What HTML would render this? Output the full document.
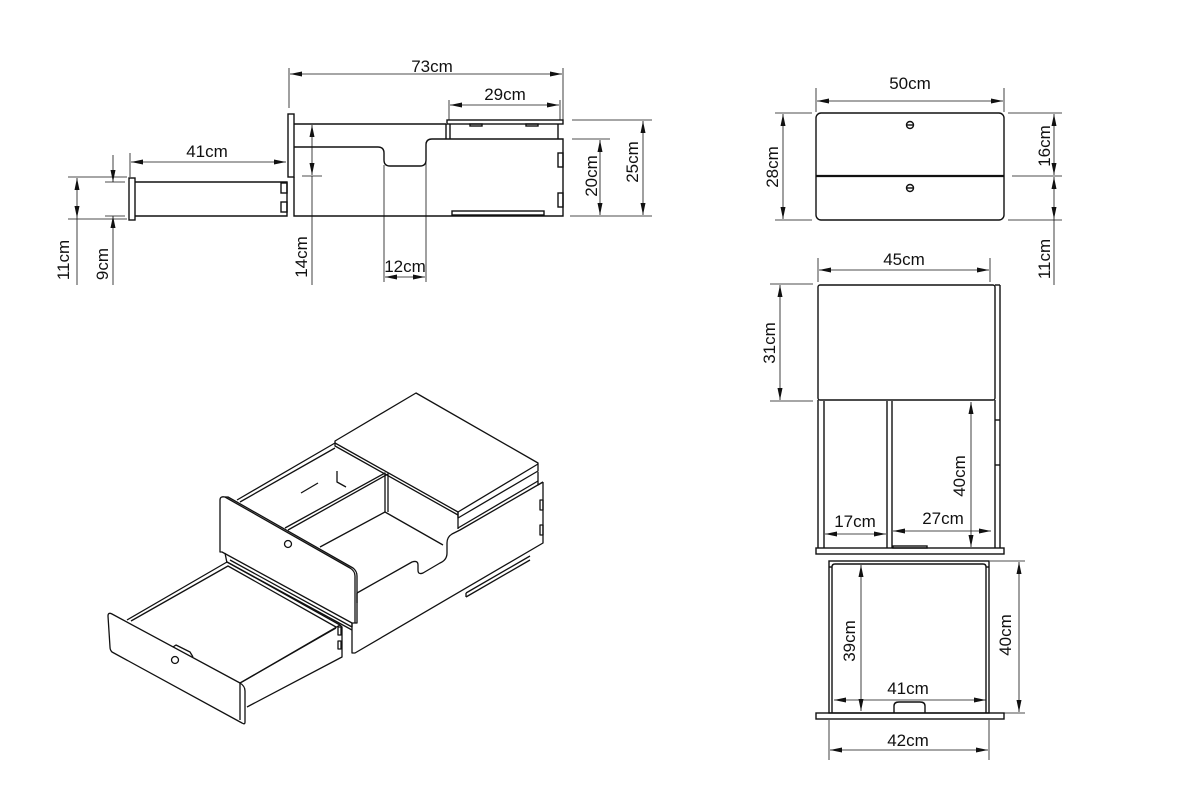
<!DOCTYPE html>
<html><head><meta charset="utf-8"><style>
html,body{margin:0;padding:0;background:#fff;}
svg{display:block;}
text{font-family:"Liberation Sans",sans-serif;font-size:17px;fill:#111;}
</style></head><body>
<svg width="1200" height="800" viewBox="0 0 1200 800" xmlns="http://www.w3.org/2000/svg">
<defs>
<marker id="a" viewBox="0 0 12 6" refX="12" refY="3" markerWidth="12" markerHeight="6" orient="auto-start-reverse" markerUnits="userSpaceOnUse"><path d="M0,0.5 L12,3 L0,5.5 z" fill="#111"/></marker>
</defs>
<g fill="none" stroke="#111" stroke-width="1">
<!-- ===== SIDE VIEW ===== -->
<g stroke-width="0.8">
<line x1="289" y1="68" x2="289" y2="108"/><line x1="563" y1="68" x2="563" y2="120"/>
<line x1="290" y1="74" x2="562" y2="74" marker-start="url(#a)" marker-end="url(#a)"/>
<line x1="449" y1="100" x2="449" y2="120"/><line x1="560" y1="100" x2="560" y2="120"/>
<line x1="450" y1="105" x2="559" y2="105" marker-start="url(#a)" marker-end="url(#a)"/>
<line x1="312" y1="125" x2="312" y2="175" marker-start="url(#a)" marker-end="url(#a)"/>
<line x1="312" y1="176" x2="312" y2="285"/><line x1="302" y1="176" x2="322" y2="176"/>
<line x1="384" y1="165" x2="384" y2="282"/><line x1="426" y1="142" x2="426" y2="282"/>
<line x1="385" y1="277" x2="425" y2="277" marker-start="url(#a)" marker-end="url(#a)"/>
<line x1="572" y1="120" x2="652" y2="120"/><line x1="572" y1="139" x2="610" y2="139"/><line x1="570" y1="216" x2="652" y2="216"/>
<line x1="600" y1="140" x2="600" y2="215" marker-start="url(#a)" marker-end="url(#a)"/>
<line x1="643" y1="121" x2="643" y2="215" marker-start="url(#a)" marker-end="url(#a)"/>
<line x1="130" y1="153" x2="130" y2="177"/>
<line x1="131" y1="162" x2="286" y2="162" marker-start="url(#a)" marker-end="url(#a)"/>
<line x1="68" y1="177" x2="127" y2="177"/><line x1="68" y1="219" x2="127" y2="219"/>
<line x1="77" y1="178" x2="77" y2="218" marker-start="url(#a)" marker-end="url(#a)"/>
<line x1="77" y1="218" x2="77" y2="285"/>
<line x1="105" y1="182" x2="125" y2="182"/><line x1="105" y1="216" x2="125" y2="216"/>
<line x1="113" y1="155" x2="113" y2="182" marker-end="url(#a)"/>
<line x1="113" y1="285" x2="113" y2="216" marker-end="url(#a)"/>
</g>
<g stroke-width="1.4">
<rect x="288" y="114" width="6" height="63"/>
<line x1="294" y1="124" x2="446" y2="124"/>
<rect x="447" y="120" width="116" height="4"/>
<line x1="446" y1="124" x2="446" y2="139"/><line x1="450" y1="124" x2="450" y2="139"/>
<line x1="558" y1="124" x2="558" y2="139"/>
<path d="M294,147 L378,147 Q384,147 384,153 L384,160 Q384,166 390,166 L420,166 Q426,166 426,160 L426,145 Q426,139 432,139 L563,139 L563,216 L294,216 L294,177"/>
<rect x="558" y="153" width="5" height="14"/><rect x="558" y="193" width="5" height="14"/>
<rect x="452" y="211" width="92" height="4"/>
<rect x="470" y="124" width="12" height="2"/><rect x="526" y="124" width="12" height="2"/>
<rect x="129" y="178" width="6" height="42"/>
<path d="M135,182 L287,182 L287,216 L135,216"/>
<rect x="281" y="183" width="6" height="10"/><rect x="281" y="202" width="6" height="10"/>
</g>

<!-- ===== FRONT VIEW ===== -->
<g stroke-width="0.8">
<line x1="816" y1="88" x2="816" y2="112"/><line x1="1004" y1="88" x2="1004" y2="112"/>
<line x1="817" y1="101" x2="1003" y2="101" marker-start="url(#a)" marker-end="url(#a)"/>
<line x1="775" y1="113" x2="812" y2="113"/><line x1="775" y1="220" x2="812" y2="220"/>
<line x1="783" y1="114" x2="783" y2="219" marker-start="url(#a)" marker-end="url(#a)"/>
<line x1="1008" y1="113" x2="1062" y2="113"/><line x1="1012" y1="176" x2="1062" y2="176"/><line x1="1008" y1="220" x2="1062" y2="220"/>
<line x1="1054" y1="114" x2="1054" y2="175" marker-start="url(#a)" marker-end="url(#a)"/>
<line x1="1054" y1="177" x2="1054" y2="219" marker-start="url(#a)" marker-end="url(#a)"/>
<line x1="1054" y1="219" x2="1054" y2="285"/>
</g>
<g stroke-width="1.4">
<rect x="816" y="113" width="188" height="107" rx="5"/>
<line x1="816" y1="176" x2="1004" y2="176" stroke-width="2.2"/>
<circle cx="910" cy="125" r="3.5"/><line x1="906.5" y1="125" x2="913.5" y2="125"/>
<circle cx="910" cy="188" r="3.5"/><line x1="906.5" y1="188" x2="913.5" y2="188"/>
</g>

<!-- ===== TOP VIEW ===== -->
<g stroke-width="0.8">
<line x1="818" y1="258" x2="818" y2="282"/><line x1="990" y1="258" x2="990" y2="282"/>
<line x1="819" y1="270" x2="989" y2="270" marker-start="url(#a)" marker-end="url(#a)"/>
<line x1="770" y1="284" x2="813" y2="284"/><line x1="770" y1="401" x2="813" y2="401"/>
<line x1="780" y1="285" x2="780" y2="400" marker-start="url(#a)" marker-end="url(#a)"/>
<line x1="825" y1="534" x2="886" y2="534" marker-start="url(#a)" marker-end="url(#a)"/>
<line x1="893" y1="531" x2="991" y2="531" marker-start="url(#a)" marker-end="url(#a)"/>
<line x1="971" y1="402" x2="971" y2="547" marker-start="url(#a)" marker-end="url(#a)"/>
<line x1="861" y1="565" x2="861" y2="711" marker-start="url(#a)" marker-end="url(#a)"/>
<line x1="834" y1="700" x2="986" y2="700" marker-start="url(#a)" marker-end="url(#a)"/>
<line x1="990" y1="561" x2="1025" y2="561"/><line x1="1004" y1="713" x2="1025" y2="713"/>
<line x1="1019" y1="562" x2="1019" y2="712" marker-start="url(#a)" marker-end="url(#a)"/>
<line x1="829" y1="720" x2="829" y2="760"/><line x1="989" y1="720" x2="989" y2="760"/>
<line x1="830" y1="750" x2="988" y2="750" marker-start="url(#a)" marker-end="url(#a)"/>
</g>
<g stroke-width="1.4">
<rect x="818" y="285" width="177" height="115" rx="2"/>
<line x1="995" y1="285" x2="1000" y2="285"/>
<line x1="1000" y1="285" x2="1000" y2="548"/>
<line x1="995" y1="400" x2="995" y2="548"/>
<line x1="818" y1="400" x2="818" y2="548"/><line x1="824" y1="401" x2="824" y2="548"/>
<line x1="887" y1="401" x2="887" y2="548"/><line x1="892" y1="401" x2="892" y2="548"/>
<line x1="995" y1="420" x2="1000" y2="420"/><line x1="995" y1="465" x2="1000" y2="465"/>
<rect x="816" y="548" width="188" height="6"/>
<rect x="893" y="546" width="34" height="2"/>
<rect x="829" y="561" width="160" height="152"/>
<path d="M832,713 L832,567 Q832,564 835,564 L983,564 Q986,564 986,567 L986,713"/>
<line x1="829" y1="567" x2="832" y2="567"/><line x1="986" y1="567" x2="989" y2="567"/>
<rect x="816" y="713" width="188" height="6"/>
<path d="M894,713 L894,706 Q894,702 899,702 L920,702 Q925,702 925,706 L925,713"/>
</g>

<!-- ===== ISOMETRIC ===== -->
<g stroke-width="1.3" stroke-linejoin="round">
<path d="M335,441 L416,393 L538,463 L538,471 L458,518 L458,512 L335,443 Z"/>
<path d="M458,512 L538,464"/>
<path d="M335,443 L335,446 L458,515"/>
<path d="M543,482 L543,543 L355,653 L352,653 L352,623"/>
<path d="M538,472 L538,485 L543,482"/>
<path d="M543,482 L460,530 L452,534 Q447,537 447,543 L447,553 Q447,560 440,563 L423,573 Q418,575 418,570 L418,565 Q418,560 412,562 L357,593"/>
<path d="M458,512 L458,529"/>
<path d="M458,528 L538,481"/>
<rect x="540" y="500" width="3" height="10"/><rect x="540" y="525" width="3" height="10"/>
<path d="M466,593 L530,556"/><path d="M466,597 L530,560"/><path d="M466,593 L466,597"/>
<path d="M237,500 L335,443"/>
<path d="M240,502 L335,448"/>
<path d="M285,528 L385,473 L385,512"/>
<path d="M288,530 L388,474 L388,512"/>
<path d="M320,547 L385,512 L443,545"/>
<path d="M357,593 L357,603"/>
<path d="M301,493 L318,483"/>
<path d="M337,471 L337,482 L346,487"/>
<path d="M220,500 Q220,496 225,497 L350,568 Q355,571 355,576 L355,623 L352,623 L222,552 L220,552 Z"/>
<path d="M225,497 L228,497 L353,568 Q357,571 357,576 L357,623 L355,623"/>
<circle cx="288" cy="544" r="3.5"/>
<path d="M225,553 L227,563"/>
<path d="M352,623 L352,627"/>
<path d="M227,562 L352,630"/>
<path d="M230,560 L352,627"/>
<path d="M108,616 Q108,612 112,614 L240,683 Q245,686 245,691 L245,722 Q245,725 242,723 L112,652 Q110,650 110,647 Z"/>
<path d="M240,683 L240,720"/>
<path d="M127,620 L227,562 L340,625"/>
<path d="M131,621 L228,566 L336,627"/>
<path d="M340,625 L242,682"/>
<path d="M336,628 L240,683"/>
<path d="M340,625 L342,627 L342,657 L247,707"/>
<rect x="338" y="627" width="3" height="8"/><rect x="338" y="641" width="3" height="8"/>
<path d="M173,647 L176,645 L190,652 L193,657"/>
<circle cx="175" cy="660" r="3.5"/>
</g>
</g>

<text x="432" y="72" text-anchor="middle">73cm</text>
<text x="505" y="100" text-anchor="middle">29cm</text>
<text x="207" y="157" text-anchor="middle">41cm</text>
<text x="405" y="272" text-anchor="middle">12cm</text>
<text transform="translate(307,257) rotate(-90)" text-anchor="middle">14cm</text>
<text transform="translate(597,176) rotate(-90)" text-anchor="middle">20cm</text>
<text transform="translate(638,162) rotate(-90)" text-anchor="middle">25cm</text>
<text transform="translate(69,260) rotate(-90)" text-anchor="middle">11cm</text>
<text transform="translate(108,264) rotate(-90)" text-anchor="middle">9cm</text>
<text x="910" y="89" text-anchor="middle">50cm</text>
<text transform="translate(778,167) rotate(-90)" text-anchor="middle">28cm</text>
<text transform="translate(1050,146) rotate(-90)" text-anchor="middle">16cm</text>
<text transform="translate(1050,259) rotate(-90)" text-anchor="middle">11cm</text>
<text x="904" y="265" text-anchor="middle">45cm</text>
<text transform="translate(775,343) rotate(-90)" text-anchor="middle">31cm</text>
<text x="855" y="527" text-anchor="middle">17cm</text>
<text x="943" y="524" text-anchor="middle">27cm</text>
<text transform="translate(965,476) rotate(-90)" text-anchor="middle">40cm</text>
<text transform="translate(855,641) rotate(-90)" text-anchor="middle">39cm</text>
<text x="908" y="694" text-anchor="middle">41cm</text>
<text transform="translate(1011,635) rotate(-90)" text-anchor="middle">40cm</text>
<text x="908" y="746" text-anchor="middle">42cm</text>
</svg>
</body></html>
